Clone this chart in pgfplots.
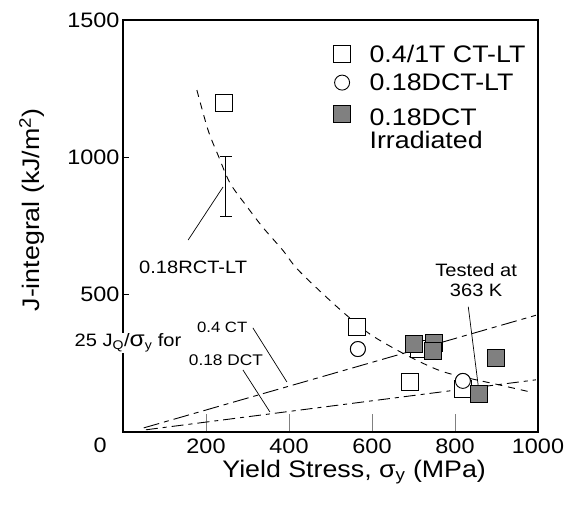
\documentclass[border=0pt]{standalone}
\usepackage{fontspec}
\setmainfont[FakeStretch=1.12]{Liberation Sans}
\usepackage{pgfplots}
\pgfplotsset{compat=1.18}
\begin{document}
\begin{tikzpicture}
\useasboundingbox (-123bp,-73bp) rectangle (446bp,432bp);
\begin{axis}[
  at={(0,0)}, anchor=south west,
  width=415bp, height=412bp, scale only axis,
  xmin=0, xmax=1000, ymin=0, ymax=1500,
  clip=false,
  axis line style={line width=1.4pt},
  xtick={200,400,600,800,1000},
  ytick={500,1000,1500},
  xtick pos=bottom, ytick pos=left,
  tick align=inside,
  major tick length=18bp,
  xtick style={line width=0.9pt},
  ytick style={draw=none},
  /pgf/number format/assume math mode=true,
  /pgf/number format/1000 sep={},
  tick label style={font=\fontsize{21}{24}\selectfont},
  x tick label style={inner sep=1bp, yshift=-6bp},
  xlabel={Yield Stress, σ\textsubscript{y} (MPa)},
  ylabel={J-integral (kJ/m\textsuperscript{2})},
  label style={font=\fontsize{24}{26}\selectfont},
  xlabel style={at={(rel axis cs:0.557,-0.097)}, anchor=center, inner sep=1bp},
  ylabel style={at={(rel axis cs:-0.219,0.539)}, anchor=center},
  legend style={at={(rel axis cs:0.507,0.943)}, anchor=north west, draw=none, fill=none,
    font=\fontsize{24}{25}\selectfont, row sep=8bp, column sep=18bp, inner sep=0pt,
    nodes={inner sep=1bp}},
  legend image code/.code={\draw[#1] plot coordinates {(0cm,0cm)};},
  legend cell align=left,
]
% legend series
\addplot[only marks, mark=square*, mark size=8.5bp, mark options={fill=white, draw=black, line width=0.9pt}]
  coordinates {(243,1198) (564,382) (692,182) (819,155) (713,303)};
\addlegendentry{0.4/1T CT-LT}
\addplot[only marks, mark=*, mark size=7.5bp, mark options={fill=white, draw=black, line width=0.9pt}]
  coordinates {(566,302) (819,186)};
\addlegendentry{0.18DCT-LT}
\addplot[only marks, mark=square*, mark size=8.5bp, mark options={fill=black!50, draw=black, line width=0.9pt}]
  coordinates {(701,320) (750,324) (746,294) (899,269) (858,138)};
\addlegendentry{\begin{tabular}[t]{@{}l@{}}\rule{0pt}{24bp}0.18DCT\\[-2bp]Irradiated\end{tabular}}
% short y ticks
\addplot[black, line width=0.9pt, forget plot] coordinates {(0,500) (15,500)};
\addplot[black, line width=0.9pt, forget plot] coordinates {(0,1000) (15,1000)};
% dashed fitting curve
\addplot[black, line width=0.9pt, dash pattern=on 7bp off 6bp, smooth, tension=0.5, forget plot]
  coordinates {(178,1245) (205,1099) (229,1008) (258,906) (299,820) (337,745) (386,660) (422,590) (511,462) (588,364) (651,306) (716,255) (781,215) (908,171) (981,146)};
% 25 J/sigma lines
\addplot[black, line width=0.9pt, dash pattern=on 16bp off 5bp on 5bp off 5bp, forget plot]
  coordinates {(50,15) (995,425)};
\addplot[black, line width=0.9pt, dash pattern=on 12bp off 5bp on 4bp off 5bp, forget plot]
  coordinates {(55,8) (995,190)};
% error bar for 0.18RCT-LT
\addplot[black, line width=0.9pt, no marks, draw=none, forget plot,
  error bars/.cd, y dir=both, y explicit,
  error mark options={rotate=90, mark size=6bp, line width=0.9pt},
  error bar style={line width=0.9pt}]
  coordinates {(248,895) +- (0,110)};
% re-draw marks on top
\addplot[only marks, mark=square*, mark size=8.5bp, mark options={fill=white, draw=black, line width=0.9pt}, forget plot]
  coordinates {(243,1198) (564,382) (692,182) (819,155)};
\addplot[only marks, mark=*, mark size=7.5bp, mark options={fill=white, draw=black, line width=0.9pt}, forget plot]
  coordinates {(566,302) (819,186)};
\addplot[only marks, mark=square*, mark size=8.5bp, mark options={fill=black!50, draw=black, line width=0.9pt}, forget plot]
  coordinates {(701,320) (750,324) (746,294) (899,269) (858,138)};
% leader lines
\addplot[black, line width=0.7pt, forget plot] coordinates {(157,699) (241,892)};
\addplot[black, line width=0.7pt, forget plot] coordinates {(313,379) (395,182)};
\addplot[black, line width=0.7pt, forget plot] coordinates {(289,226) (354,73)};
\addplot[black, line width=0.7pt, forget plot] coordinates {(832,456) (856,168)};
% annotations
\node[font=\fontsize{18}{20}\selectfont] at (axis cs:169,601) {0.18RCT-LT};
\node[font=\fontsize{18}{20}\selectfont, fill=white, inner sep=1bp] at (axis cs:12,324) {25 J\textsubscript{Q}/{\fontsize{22}{22}\selectfont σ}\textsubscript{y} for};
\node[font=\fontsize{15}{18}\selectfont] at (axis cs:239,382) {0.4 CT};
\node[font=\fontsize{15.5}{18}\selectfont] at (axis cs:248,262) {0.18 DCT};
\node[font=\fontsize{18}{20}\selectfont, align=center] at (axis cs:851,553) {Tested at\\363 K};
\node[font=\fontsize{21}{24}\selectfont] at (axis cs:-55,-47) {0};
\end{axis}
\end{tikzpicture}
\end{document}
